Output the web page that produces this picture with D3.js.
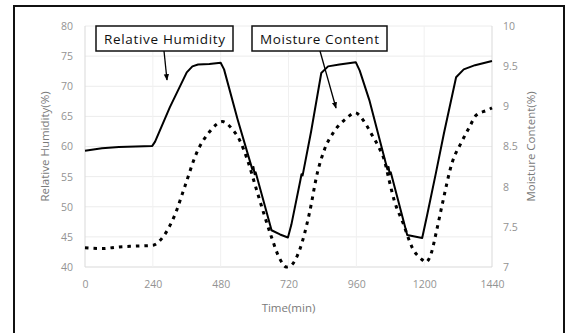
<!DOCTYPE html>
<html>
<head>
<meta charset="utf-8">
<script src="https://cdn.jsdelivr.net/npm/d3@7"></script>
<style>
  body { margin: 0; background: #fff; }
  svg { display: block; }
</style>
</head>
<body>
<div class="chart"></div>
<script>
// time (min) / relative humidity (%)
const rhTime = [0, 60, 120, 180, 238, 248, 300, 360, 380, 400, 440, 480, 492, 540, 592, 596, 600, 604, 660, 690, 718, 730, 762, 766, 770, 800, 836, 860, 900, 958, 972, 1006, 1070, 1074, 1078, 1082, 1140, 1193, 1210, 1242, 1270, 1313, 1340, 1380, 1440]
const rhValues = [59.3, 59.7, 59.9, 60.0, 60.1, 60.8, 66.5, 72.3, 73.3, 73.6, 73.7, 73.9, 72.8, 64.5, 56.2, 56.6, 55.4, 55.7, 46.1, 45.4, 44.9, 47.0, 54.4, 55.4, 55.2, 62.5, 72.2, 73.3, 73.6, 74.0, 72.6, 67.7, 56.2, 56.6, 55.4, 55.7, 45.3, 44.8, 48.5, 55.7, 62.2, 71.5, 72.8, 73.5, 74.2]

// time (min) / moisture content (%)
const mcTime = [0, 60, 120, 180, 240, 275, 318, 353, 395, 440, 487, 520, 547, 575, 607, 635, 660, 688, 712, 725, 759, 794, 822, 847, 880, 925, 955, 995, 1016, 1041, 1059, 1076, 1094, 1125, 1158, 1193, 1205, 1225, 1242, 1264, 1299, 1330, 1360, 1384, 1422, 1440]
const mcValues = [7.24, 7.23, 7.25, 7.26, 7.27, 7.37, 7.65, 8.0, 8.42, 8.68, 8.81, 8.72, 8.58, 8.33, 7.96, 7.64, 7.37, 7.11, 7.0, 7.01, 7.21, 7.67, 8.17, 8.46, 8.68, 8.85, 8.92, 8.77, 8.64, 8.48, 8.33, 8.08, 7.83, 7.55, 7.24, 7.09, 7.06, 7.17, 7.42, 7.78, 8.3, 8.54, 8.74, 8.89, 8.95, 8.98]

const xTicks = [0, 240, 480, 720, 960, 1200, 1440]
const rhTicks = [40, 45, 50, 55, 60, 65, 70, 75, 80]
const mcTicks = [7, 7.5, 8, 8.5, 9, 9.5, 10]

const width = 566
const height = 333
const plot = { left: 85, right: 492, top: 26, bottom: 267 }

const svg = d3.select('.chart')
    .append('svg')
    .attr('width', width)
    .attr('height', height)

// outer frame (bottom edge falls outside the picture)
svg.append('rect')
    .attr('x', 14).attr('y', 6)
    .attr('width', 550).attr('height', 340)
    .attr('fill', 'none')
    .attr('stroke', '#111')
    .attr('stroke-width', 2)

const xScale = d3.scaleLinear().domain([0, 1440]).range([plot.left, plot.right])
const yLeft = d3.scaleLinear().domain([40, 80]).range([plot.bottom, plot.top])
const yRight = d3.scaleLinear().domain([7, 10]).range([plot.bottom, plot.top])

// grid
svg.append('g')
    .selectAll('line')
    .data(rhTicks)
    .join('line')
    .attr('x1', plot.left).attr('x2', plot.right)
    .attr('y1', d => yLeft(d)).attr('y2', d => yLeft(d))
    .attr('stroke', d => d === 40 ? '#d9d9d9' : '#ececec')
    .attr('stroke-width', 1)

svg.append('g')
    .selectAll('line')
    .data(xTicks)
    .join('line')
    .attr('x1', d => xScale(d)).attr('x2', d => xScale(d))
    .attr('y1', plot.top).attr('y2', plot.bottom)
    .attr('stroke', d => (d === 0 || d === 1440) ? '#d9d9d9' : '#f0f0f0')
    .attr('stroke-width', 1)

const tickStyle = g => {
    g.select('.domain').remove()
    g.selectAll('.tick line').remove()
    g.selectAll('text')
        .attr('fill', '#939393')
        .style('font-family', '"Open Sans", sans-serif')
        .style('font-size', '10.5px')
}

svg.append('g')
    .attr('transform', `translate(0,${plot.bottom})`)
    .call(d3.axisBottom(xScale).tickValues(xTicks).tickSize(0).tickPadding(14)
        .tickFormat(d3.format('d')))
    .call(tickStyle)

svg.append('g')
    .attr('transform', `translate(${plot.left},0)`)
    .call(d3.axisLeft(yLeft).tickValues(rhTicks).tickSize(0).tickPadding(12))
    .call(tickStyle)

svg.append('g')
    .attr('transform', `translate(${plot.right},0)`)
    .call(d3.axisRight(yRight).tickValues(mcTicks).tickSize(0).tickPadding(11)
        .tickFormat(d => String(d)))
    .call(tickStyle)

// axis titles
const titleStyle = sel => sel
    .attr('fill', '#7a7a7a')
    .attr('text-anchor', 'middle')
    .style('font-family', '"Open Sans", sans-serif')
    .style('font-size', '11.5px')

svg.append('text')
    .attr('x', (plot.left + plot.right) / 2)
    .attr('y', 312)
    .text('Time(min)')
    .call(titleStyle)

svg.append('text')
    .attr('transform', `translate(49,${(plot.top + plot.bottom) / 2}) rotate(-90)`)
    .text('Relative Humidity(%)')
    .call(titleStyle)

svg.append('text')
    .attr('transform', `translate(535,${(plot.top + plot.bottom) / 2}) rotate(-90)`)
    .text('Moisture Content(%)')
    .call(titleStyle)

// series
const rhData = rhTime.map((t, i) => ({ t, v: rhValues[i] }))
const mcData = mcTime.map((t, i) => ({ t, v: mcValues[i] }))

svg.append('path')
    .datum(mcData)
    .attr('d', d3.line().x(d => xScale(d.t)).y(d => yRight(d.v)).curve(d3.curveMonotoneX))
    .attr('fill', 'none')
    .attr('stroke', '#000')
    .attr('stroke-width', 3)
    .attr('stroke-dasharray', '3.5,5')

svg.append('path')
    .datum(rhData)
    .attr('d', d3.line().x(d => xScale(d.t)).y(d => yLeft(d.v)))
    .attr('fill', 'none')
    .attr('stroke', '#000')
    .attr('stroke-width', 2)
    .attr('stroke-linejoin', 'round')

// callouts
const callouts = [
    { label: 'Relative Humidity', x: 96, w: 137, from: [164, 51], to: [167, 80] },
    { label: 'Moisture Content', x: 252, w: 135, from: [320, 51], to: [336, 108] }
]

svg.append('defs').append('marker')
    .attr('id', 'head')
    .attr('viewBox', '0 0 10 10')
    .attr('refX', 9).attr('refY', 5)
    .attr('markerWidth', 5).attr('markerHeight', 5)
    .attr('orient', 'auto')
    .append('path')
    .attr('d', 'M0,1 L10,5 L0,9 z')
    .attr('fill', '#000')

callouts.forEach(c => {
    const g = svg.append('g')
    g.append('rect')
        .attr('x', c.x).attr('y', 26)
        .attr('width', c.w).attr('height', 25)
        .attr('fill', '#fff')
        .attr('stroke', '#111')
        .attr('stroke-width', 1.5)
    g.append('text')
        .attr('x', c.x + c.w / 2)
        .attr('y', 43.5)
        .attr('text-anchor', 'middle')
        .attr('fill', '#111')
        .style('font-family', '"Open Sans", sans-serif')
        .style('font-size', '13.5px')
        .attr('textLength', c.w - 16)
        .text(c.label)
    g.append('line')
        .attr('x1', c.from[0]).attr('y1', c.from[1])
        .attr('x2', c.to[0]).attr('y2', c.to[1])
        .attr('stroke', '#000')
        .attr('stroke-width', 1.3)
        .attr('marker-end', 'url(#head)')
})
</script>
</body>
</html>
